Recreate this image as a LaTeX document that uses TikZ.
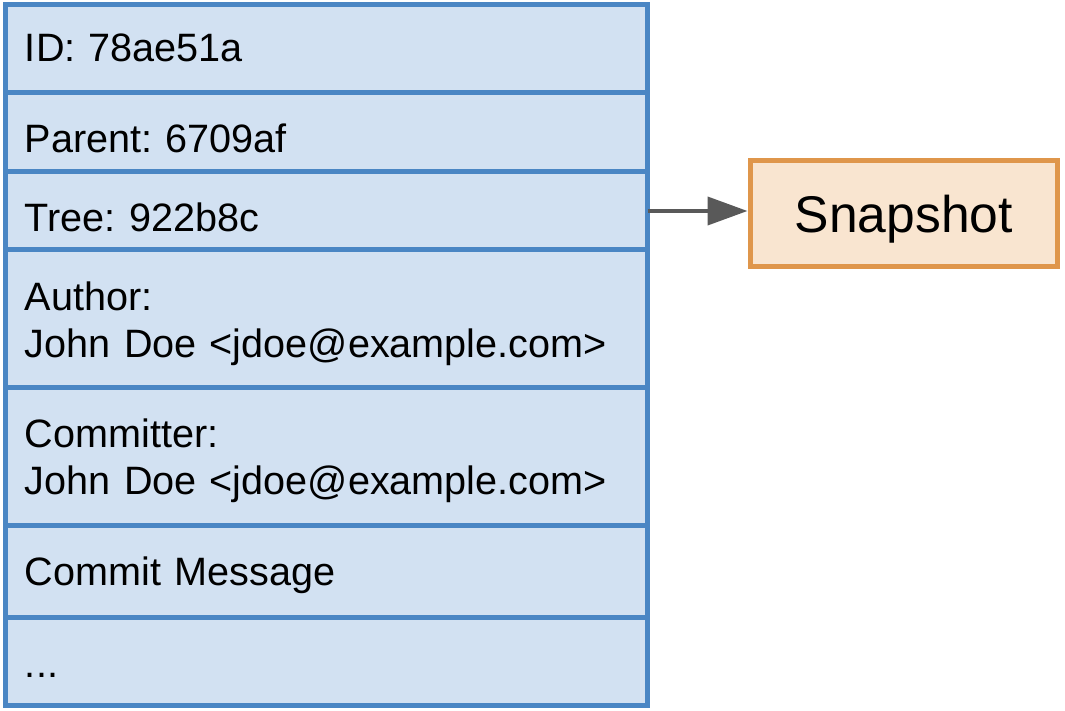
\documentclass[tikz,border=0pt]{standalone}
\usepackage{fontspec}
\setmainfont{Liberation Sans}
\usetikzlibrary{positioning,arrows.meta}
\definecolor{fieldfill}{HTML}{D2E1F2}
\definecolor{fieldline}{HTML}{4A86C4}
\definecolor{snapfill}{HTML}{F9E5D0}
\definecolor{snapline}{HTML}{DF964B}
\definecolor{arrowgray}{HTML}{595959}
\frenchspacing

\begin{document}
\begin{tikzpicture}[
  field/.style={draw=fieldline, fill=fieldfill, line width=2.5pt, outer sep=0pt,
    text width=301.5pt, inner xsep=9.75pt, inner ysep=0pt, align=left,
    text height=30pt, text depth=#1,
    font=\fontsize{19.8}{23.9}\selectfont},
  snapbox/.style={draw=snapline, fill=snapfill, line width=2.5pt,
    minimum width=153.75pt, minimum height=53pt, text depth=0pt,
    font=\fontsize{25.8}{30}\selectfont},
  pointer/.style={draw=arrowgray, line width=2pt, -{Triangle[length=20pt,width=14pt]}}]
  \useasboundingbox (0,0) rectangle (532.5pt,-355.5pt);
  % commit object, one row per field (text sits at the top of each row)
  \node[field=15.5pt, text height=28.5pt, anchor=north west] (id) at (2.75pt,-2.5pt) {ID: 78ae51a};
  \node[field=9.5pt, below=0pt of id] (parent) {Parent: 6709af};
  \node[field=9pt, below=0pt of parent] (tree) {Tree: 922b8c};
  \node[field=38.5pt, below=0pt of tree] (author) {Author:\\John Doe <jdoe@example.com>};
  \node[field=39pt, below=0pt of author] (committer) {Committer:\\John Doe <jdoe@example.com>};
  \node[field=16pt, below=0pt of committer] (message) {Commit Message};
  \node[field=14pt, below=0pt of message] (more) {...};
  % the tree points to a snapshot
  \node[snapbox, right=50pt of tree, yshift=-1.25pt] (snap) {Snapshot};
  \draw[pointer] (tree.east) -- (tree.east -| snap.west);
\end{tikzpicture}
\end{document}
